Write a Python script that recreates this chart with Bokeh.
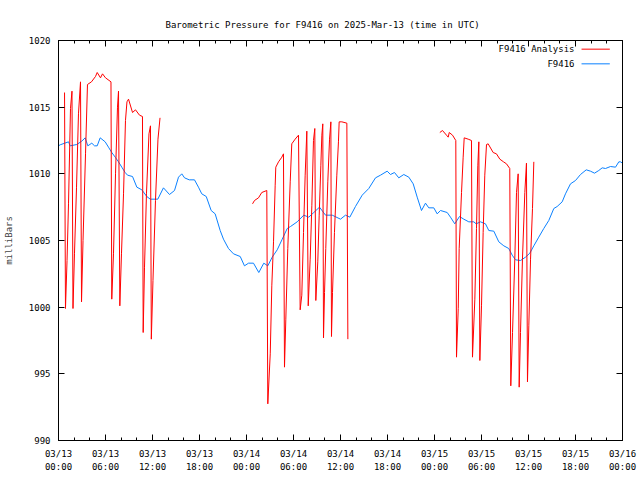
import numpy as np
from bokeh.plotting import figure
from bokeh.models import FixedTicker, LinearAxis, Range1d, Label
from bokeh.embed import file_html
from bokeh.resources import INLINE

TITLE = "Barometric Pressure for F9416 on 2025-Mar-13 (time in UTC)"
Y_LABEL = "milliBars"
SERIES_ANALYSIS = "F9416 Analysis"
SERIES_OBS = "F9416"

X_TICK_HOURS = [0, 6, 12, 18, 24, 30, 36, 42, 48, 54, 60, 66, 72]
X_TICK_LABELS = ["03/13\n00:00", "03/13\n06:00", "03/13\n12:00", "03/13\n18:00",
                 "03/14\n00:00", "03/14\n06:00", "03/14\n12:00", "03/14\n18:00",
                 "03/15\n00:00", "03/15\n06:00", "03/15\n12:00", "03/15\n18:00",
                 "03/16\n00:00"]
X_MINOR_HOURS = list(range(0, 73, 2))
Y_TICKS = [990, 995, 1000, 1005, 1010, 1015, 1020]

# observed station pressure (hours since 2025-03-13 00:00 UTC)
obs_hours = [0.0, 0.22, 1.28, 1.49, 2.34, 2.97, 3.41, 3.74, 4.25, 4.60, 4.94, 5.32, 5.96,
             6.38, 6.80, 7.24, 7.66, 8.08, 8.51, 8.81, 9.45, 10.00, 10.64, 11.27, 11.71,
             12.68, 13.40, 14.17, 14.81, 15.32, 15.74, 16.09, 16.69, 17.36, 17.87, 18.29,
             18.86, 19.49, 20.00, 20.64, 21.06, 21.70, 22.34, 23.20, 23.74, 24.26, 24.89,
             25.57, 26.21, 26.72, 27.28, 27.92, 28.56, 29.20, 29.62, 30.47, 31.31, 31.95,
             32.59, 33.32, 34.09, 34.94, 36.00, 36.64, 37.19, 37.91, 38.77, 39.61, 40.47,
             41.11, 41.96, 42.38, 42.89, 43.44, 44.08, 44.72, 45.28, 45.79, 46.34, 46.85,
             47.27, 47.91, 48.34, 48.77, 49.62, 50.04, 50.59, 51.19, 51.74, 52.38, 53.02,
             53.32, 53.87, 54.51, 54.93, 55.57, 56.21, 56.85, 57.48, 57.92, 58.34, 58.98,
             59.62, 60.17, 60.68, 61.31, 61.95, 62.59, 63.23, 63.66, 64.30, 64.72, 65.36,
             66.00, 66.64, 67.37, 67.91, 68.43, 68.97, 69.41, 69.83, 70.47, 71.11, 71.53,
             71.74, 72.0]
obs_mb = [1012.1, 1012.18, 1012.4, 1012.1, 1012.2, 1012.45, 1012.7, 1012.1, 1012.3, 1012.1,
          1012.1, 1012.7, 1012.4, 1012.0, 1011.6, 1011.25, 1010.9, 1010.5, 1010.1, 1009.9,
          1009.8, 1009.0, 1008.8, 1008.3, 1008.1, 1008.1, 1008.95, 1008.45, 1008.75, 1009.75,
          1010.0, 1009.7, 1009.55, 1009.55, 1009.0, 1008.5, 1008.3, 1007.25, 1007.0, 1005.75,
          1005.1, 1004.4, 1004.0, 1003.8, 1003.1, 1003.3, 1003.3, 1002.6, 1003.3, 1003.1,
          1003.75, 1004.3, 1005.1, 1005.9, 1006.05, 1006.4, 1006.9, 1006.75, 1007.1, 1007.5,
          1006.9, 1006.9, 1006.6, 1006.9, 1006.75, 1007.55, 1008.4, 1008.9, 1009.7, 1009.9,
          1010.2, 1009.95, 1010.1, 1009.7, 1009.95, 1009.75, 1009.25, 1008.25, 1007.25,
          1007.8, 1007.45, 1007.45, 1007.0, 1007.25, 1007.1, 1006.75, 1006.25, 1006.8,
          1006.6, 1006.4, 1006.4, 1006.25, 1006.4, 1006.25, 1005.75, 1005.7, 1004.9, 1004.6,
          1004.4, 1003.9, 1003.55, 1003.5, 1003.75, 1004.05, 1004.6, 1005.25, 1005.9, 1006.5,
          1007.4, 1007.55, 1007.9, 1008.5, 1009.25, 1009.5, 1009.95, 1010.3, 1010.2, 1010.05,
          1010.25, 1010.45, 1010.4, 1010.55, 1010.5, 1010.9, 1010.9, 1010.8]

# analysis pressure, three separate runs
ana1_hours = [0.77, 0.89, 1.09, 1.28, 1.53, 1.72, 1.85, 2.04, 2.30, 2.55, 2.81, 2.94, 3.13,
              3.45, 3.70, 4.21, 4.72, 4.94, 5.36, 5.62, 6.00, 6.70, 6.80, 7.02, 7.28, 7.53,
              7.66, 7.83, 8.04, 8.30, 8.55, 8.74, 8.94, 9.45, 9.83, 10.34, 10.72, 10.81,
              10.98, 11.23, 11.55, 11.74, 11.85, 12.06, 12.38, 12.70, 12.96]
ana1_mb = [1016.1, 999.9, 1003.5, 1007.8, 1014.9, 1016.2, 999.9, 1004.0, 1009.0, 1014.5,
           1016.9, 1000.4, 1005.0, 1011.5, 1016.7, 1016.9, 1017.3, 1017.6, 1017.2, 1017.5,
           1017.2, 1016.9, 1000.6, 1004.0, 1010.0, 1015.0, 1016.2, 1000.1, 1004.0, 1008.5,
           1014.0, 1015.4, 1015.6, 1014.6, 1014.8, 1014.4, 1014.3, 998.1, 1003.0, 1008.5,
           1013.0, 1013.6, 997.6, 1002.0, 1008.0, 1012.6, 1014.2]

ana2_hours = [24.77, 25.02, 25.53, 25.95, 26.59, 26.72, 27.03, 27.23, 27.45, 27.66, 27.74,
              28.09, 28.51, 28.72, 28.85, 29.02, 29.27, 29.58, 29.78, 30.21, 30.64, 30.85,
              31.06, 31.28, 31.49, 31.70, 31.88, 32.13, 32.34, 32.55, 32.72, 32.85, 33.10,
              33.28, 33.49, 33.62, 33.74, 33.83, 33.96, 34.12, 34.38, 34.60, 34.77, 34.85,
              34.98, 35.23, 35.53, 35.74, 35.83, 36.17, 36.81, 36.94]
ana2_mb = [1007.75, 1008.0, 1008.2, 1008.6, 1008.75, 992.75, 996.5, 1001.6, 1004.9, 1009.1,
           1010.5, 1010.9, 1011.25, 1011.5, 995.5, 999.1, 1004.4, 1009.4, 1012.25, 1012.6,
           1012.9, 999.8, 1000.9, 1005.6, 1009.9, 1013.2, 1000.1, 1003.6, 1007.6, 1012.5,
           1013.4, 1000.5, 1003.4, 1006.9, 1010.6, 1012.9, 1013.75, 997.7, 1001.1, 1004.4,
           1009.4, 1012.6, 1013.9, 997.8, 1001.1, 1005.6, 1009.9, 1012.4, 1013.9, 1013.9,
           1013.8, 997.6]

ana3_hours = [48.68, 49.02, 49.53, 49.75, 49.88, 50.30, 50.72, 50.81, 51.03, 51.15, 51.45,
              51.66, 51.79, 52.30, 52.72, 52.85, 53.15, 53.36, 53.53, 53.66, 53.79, 54.00,
              54.21, 54.42, 54.64, 54.85, 55.49, 55.91, 56.34, 56.81, 57.19, 57.61, 57.74,
              57.96, 58.25, 58.47, 58.68, 58.81, 58.98, 59.23, 59.53, 59.74, 59.87, 60.04,
              60.26, 60.51, 60.68]
ana3_mb = [1013.1, 1013.25, 1012.9, 1012.75, 1013.1, 1012.9, 1012.5, 996.25, 999.9, 1004.4,
           1008.6, 1011.25, 1012.7, 1012.6, 1012.5, 996.25, 1000.6, 1005.9, 1010.6, 1012.4,
           996.0, 1000.1, 1005.6, 1009.9, 1012.2, 1012.25, 1011.6, 1011.5, 1011.1, 1010.9,
           1010.75, 1010.4, 994.1, 998.1, 1003.6, 1008.6, 1010.0, 994.0, 998.1, 1003.6,
           1008.6, 1010.8, 994.4, 998.6, 1003.6, 1007.4, 1010.9]

RED = "#ff0000"
BLUE = "#0a80ff"
FONT = "DejaVu Sans Mono"
FS = "9px"

p = figure(width=640, height=480, x_range=Range1d(0, 72), y_range=Range1d(990, 1020),
           output_backend="svg", toolbar_location=None,
           min_border_left=58, min_border_right=18, min_border_top=40, min_border_bottom=40)
p.background_fill_color = "white"
p.border_fill_color = "white"
p.outline_line_color = "black"
p.grid.visible = False

p.title.text = TITLE
p.title.align = "left"
p.title.offset = 107
p.title.text_font = FONT
p.title.text_font_size = FS
p.title.text_font_style = "normal"
p.title.text_color = "black"
p.title.standoff = 21

xt = FixedTicker(ticks=X_TICK_HOURS, minor_ticks=X_MINOR_HOURS)
yt = FixedTicker(ticks=Y_TICKS)


def style(ax, labels=True):
    ax.axis_line_color = "black"
    ax.major_tick_line_color = "black"
    ax.minor_tick_line_color = "black"
    ax.major_tick_in = 6
    ax.major_tick_out = 0
    ax.minor_tick_in = 3
    ax.minor_tick_out = 0
    ax.major_label_text_font = FONT
    ax.major_label_text_font_size = FS
    if labels:
        ax.major_label_text_color = "black"
    else:
        ax.major_label_text_color = None
        ax.major_label_standoff = 0


xa = p.xaxis[0]
xa.ticker = xt
xa.major_label_overrides = {h: l for h, l in zip(X_TICK_HOURS, X_TICK_LABELS)}
style(xa)
xa.major_label_standoff = 8
xa.major_label_text_line_height = 1.35

ya = p.yaxis[0]
ya.ticker = yt
ya.minor_tick_line_color = None
style(ya)
ya.major_label_standoff = 8
ya.axis_label = Y_LABEL
ya.axis_label_text_font = FONT
ya.axis_label_text_font_size = FS
ya.axis_label_text_font_style = "normal"
ya.axis_label_standoff = 12

top = LinearAxis(ticker=xt)
style(top, labels=False)
top.major_label_overrides = {h: "" for h in X_MINOR_HOURS}
p.add_layout(top, "above")
right = LinearAxis(ticker=yt)
style(right, labels=False)
right.major_label_overrides = {v: "" for v in Y_TICKS}
right.minor_tick_line_color = None
p.add_layout(right, "right")

nan = [float("nan")]
ana_hours = ana1_hours + nan + ana2_hours + nan + ana3_hours
ana_mb = ana1_mb + nan + ana2_mb + nan + ana3_mb

p.line(x=np.array(obs_hours), y=np.array(obs_mb), line_color=BLUE, line_width=1)
p.line(x=np.array(ana_hours), y=np.array(ana_mb), line_color=RED, line_width=1)

# legend (gnuplot style: text then sample line)
LEG_TEXT_X = 65.87
LEG_LINE_X0, LEG_LINE_X1 = 66.77, 70.38
LEG_Y = [1019.35, 1018.25]
for yy, name, col in zip(LEG_Y, [SERIES_ANALYSIS, SERIES_OBS], [RED, BLUE]):
    p.add_layout(Label(x=LEG_TEXT_X, y=yy, text=name, text_align="right", text_baseline="middle",
                       text_font=FONT, text_font_size=FS, text_color="black"))
    p.segment(x0=[LEG_LINE_X0], y0=[yy], x1=[LEG_LINE_X1], y1=[yy], line_color=col, line_width=1)

open("out.html", "w").write(file_html(p, INLINE))
